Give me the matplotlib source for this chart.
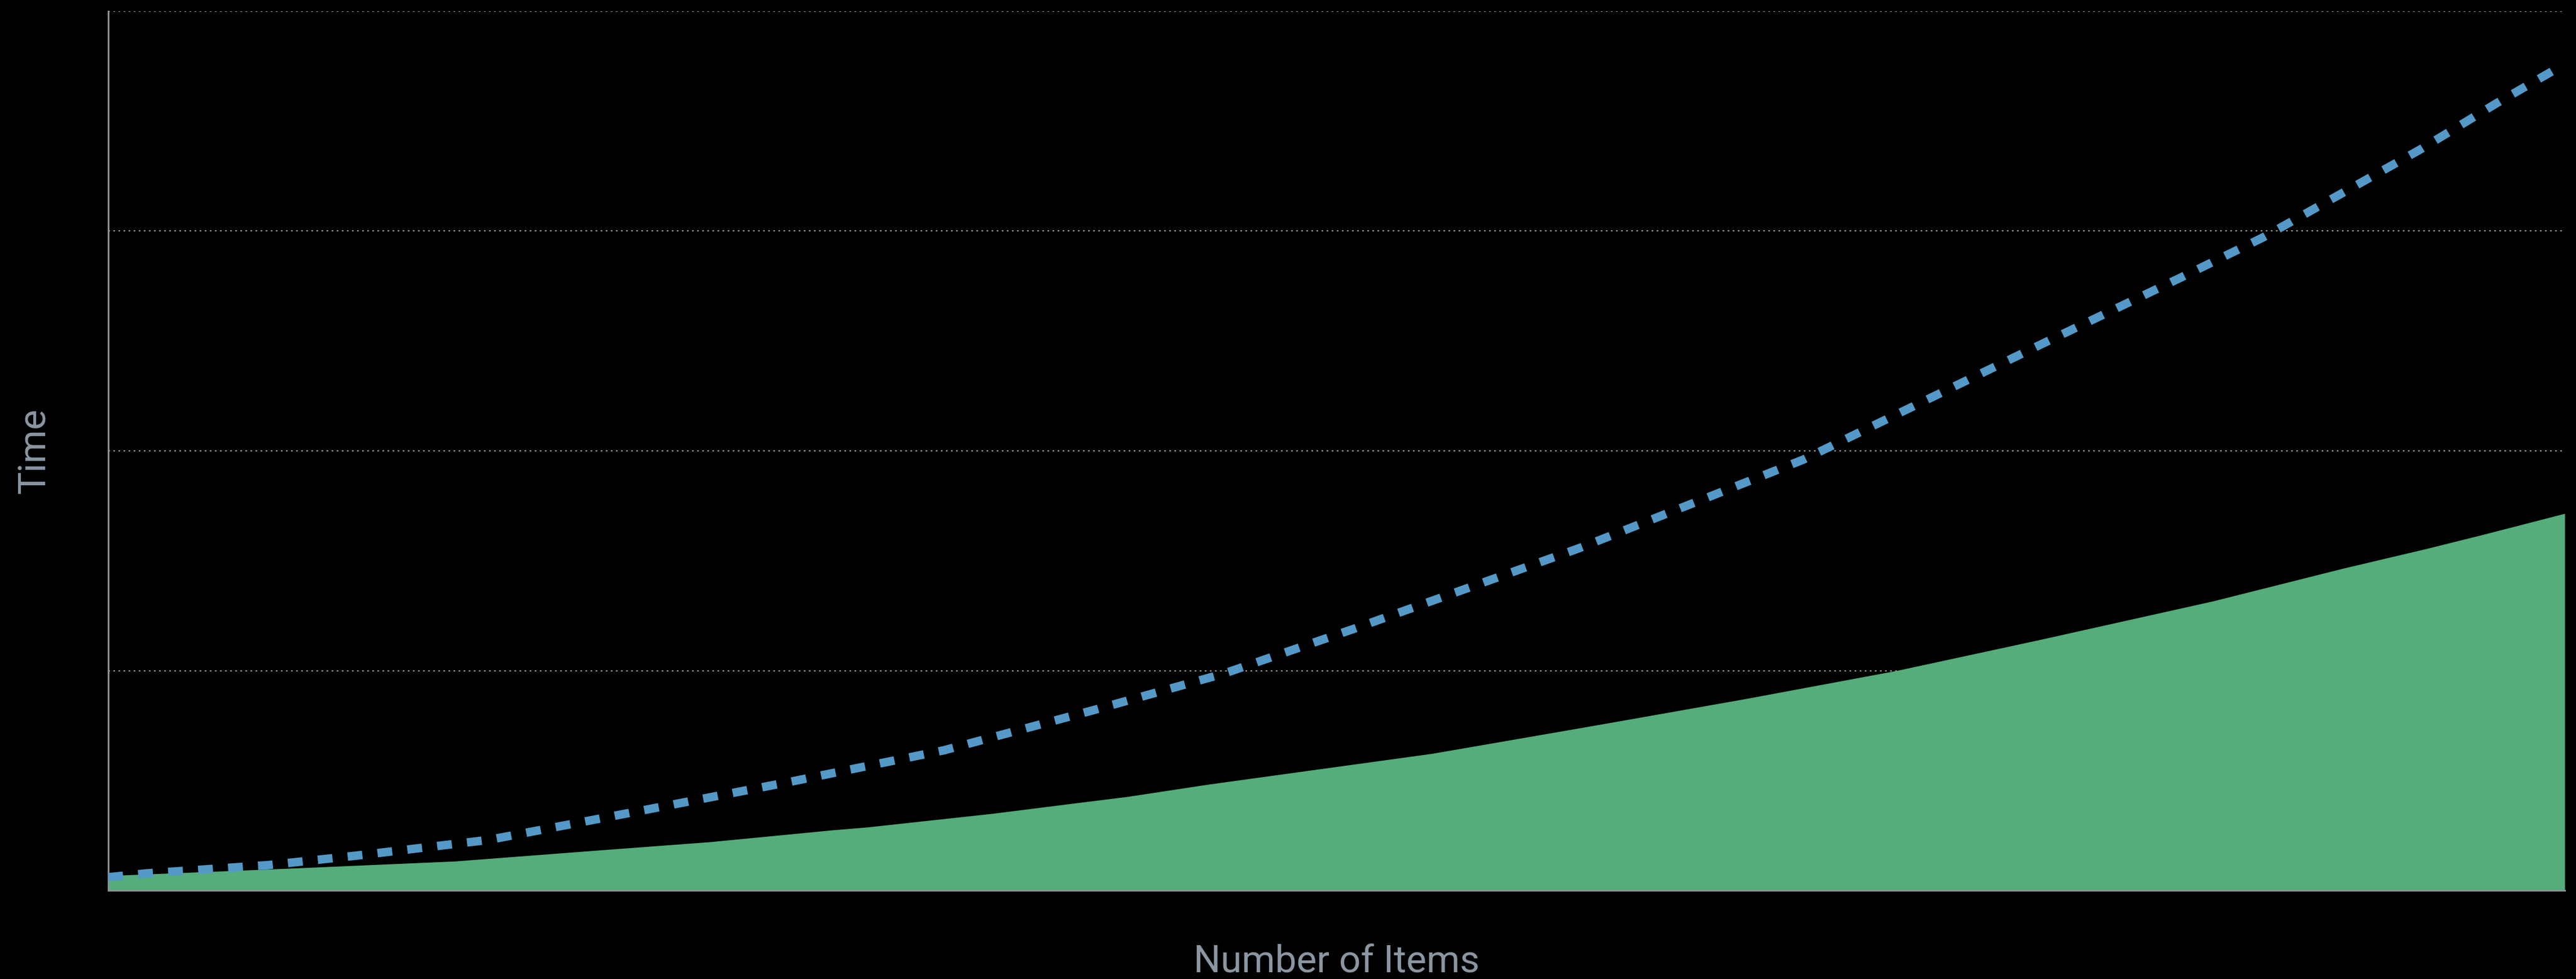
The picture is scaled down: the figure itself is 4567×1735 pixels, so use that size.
import numpy as np
import matplotlib
matplotlib.use("Agg")
import matplotlib.pyplot as plt

# values (x = share of items in %, y = time in grid units)
items_dashed = [0, 1.5, 6.5, 10, 15.5, 21.7, 27.8, 34, 40.1, 45.4, 50.7,
                59.9, 69, 78.6, 84.4, 87.7, 90.9, 94.1, 97.2, 100]
time_dashed = [0.06, 0.077, 0.115, 0.157, 0.23, 0.363, 0.495, 0.637, 0.82,
               0.986, 1.19, 1.558, 1.96, 2.48, 2.79, 2.97, 3.17, 3.37, 3.58, 3.76]

items_area = [0, 7.3, 14.1, 19.6, 24.5, 29.5, 30.9, 36, 39.2, 41.5, 44.8,
              53.9, 59.9, 62.2, 66.7, 72.8, 78.6, 85.7, 91, 94.3, 96.6, 100]
time_area = [0.067, 0.10, 0.133, 0.18, 0.221, 0.275, 0.288, 0.35, 0.395, 0.427,
             0.483, 0.623, 0.739, 0.784, 0.873, 1.0, 1.14, 1.317, 1.466, 1.553,
             1.617, 1.715]

grid_levels = [1, 2, 3, 4]

W, H, DPI = 4567, 1735, 100
px = 72.0 / DPI  # points per pixel

label_color = "#8a96a2"
spine_color = "#8b9299"

fig = plt.figure(figsize=(W / DPI, H / DPI), dpi=DPI, facecolor="black")
ax = fig.add_axes([192 / W, (H - 1578) / H, (4547 - 192) / W, (1578 - 20) / H])
ax.set_facecolor("black")

ax.fill_between(items_area, 0, time_area, color="#54ad7a", linewidth=0, zorder=2)
ax.plot(items_dashed, time_dashed, color="#5499c7", linewidth=15 * px,
        dashes=(1.75, 1.8), solid_capstyle="butt", dash_capstyle="butt", zorder=3)

for lvl in grid_levels:
    ax.axhline(lvl, color="#9a9a9a", linewidth=2 * px, dashes=(1.5, 3.0), zorder=1)

ax.set_xlim(0, 100)
ax.set_ylim(0, 4)
ax.set_xticks([])
ax.set_yticks([])
for side in ["top", "right"]:
    ax.spines[side].set_visible(False)
for side in ["left", "bottom"]:
    ax.spines[side].set_color(spine_color)
    ax.spines[side].set_linewidth(3 * px)

fig.text(2370 / W, (H - 1723) / H, "Number of Items", color=label_color,
         fontsize=48.6, family="Roboto", ha="center", va="baseline")
fig.text(80 / W, (H - 799) / H, "Time", color=label_color, fontsize=48.6,
         family="Roboto", rotation=90, rotation_mode="anchor",
         ha="center", va="baseline")

fig.savefig("out.png", dpi=DPI, facecolor="black")
